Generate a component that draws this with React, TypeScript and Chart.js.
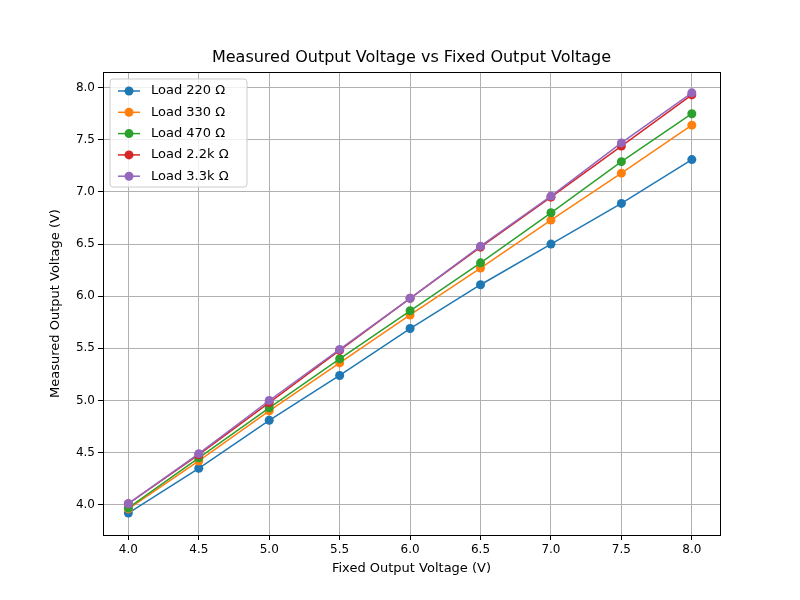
import { useEffect, useRef } from 'react'
import { Chart, registerables, type Plugin } from 'chart.js'

Chart.register(...registerables)

const fixedVoltage = [4.0, 4.5, 5.0, 5.5, 6.0, 6.5, 7.0, 7.5, 8.0]
const load220 = [3.92, 4.35, 4.81, 5.24, 5.69, 6.11, 6.5, 6.89, 7.31]
const load330 = [3.96, 4.42, 4.9, 5.36, 5.82, 6.27, 6.73, 7.18, 7.64]
const load470 = [3.97, 4.45, 4.93, 5.4, 5.86, 6.32, 6.8, 7.29, 7.75]
const load2k2 = [4.01, 4.48, 4.98, 5.48, 5.98, 6.47, 6.95, 7.44, 7.93]
const load3k3 = [4.01, 4.49, 5.0, 5.49, 5.98, 6.48, 6.96, 7.47, 7.95]
const tickValues = [4.0, 4.5, 5.0, 5.5, 6.0, 6.5, 7.0, 7.5, 8.0]

const series = [
  { label: 'Load 220 Ω', data: load220, color: '#1f77b4' },
  { label: 'Load 330 Ω', data: load330, color: '#ff7f0e' },
  { label: 'Load 470 Ω', data: load470, color: '#2ca02c' },
  { label: 'Load 2.2k Ω', data: load2k2, color: '#d62728' },
  { label: 'Load 3.3k Ω', data: load3k3, color: '#9467bd' },
]

const FONT = 'DejaVu Sans'

const overlay: Plugin = {
  id: 'overlay',
  afterDraw(chart) {
    const { ctx, chartArea } = chart
    const { left, right, top, bottom } = chartArea
    ctx.save()
    // frame
    ctx.strokeStyle = '#000'
    ctx.lineWidth = 1
    ctx.strokeRect(left + 0.5, top + 0.5, right - left, bottom - top)

    ctx.fillStyle = '#000'
    ctx.font = `16px "${FONT}"`
    ctx.textAlign = 'center'
    ctx.textBaseline = 'middle'
    ctx.fillText('Measured Output Voltage vs Fixed Output Voltage', (left + right) / 2, 58)

    ctx.font = `13px "${FONT}"`
    ctx.fillText('Fixed Output Voltage (V)', (left + right) / 2, 569)
    ctx.save()
    ctx.translate(56, (top + bottom) / 2)
    ctx.rotate(-Math.PI / 2)
    ctx.fillText('Measured Output Voltage (V)', 0, 0)
    ctx.restore()

    // legend box
    const x0 = left + 7, y0 = top + 7
    ctx.fillStyle = 'rgba(255,255,255,0.8)'
    ctx.strokeStyle = '#cccccc'
    ctx.lineWidth = 1
    ctx.beginPath()
    ctx.roundRect(x0, y0, 137, 108, 3)
    ctx.fill()
    ctx.stroke()
    ctx.font = `13px "${FONT}"`
    ctx.textAlign = 'left'
    series.forEach((s, i) => {
      const y = y0 + 12 + i * 21.3
      ctx.strokeStyle = s.color
      ctx.lineWidth = 1.5
      ctx.beginPath()
      ctx.moveTo(x0 + 8, y)
      ctx.lineTo(x0 + 30, y)
      ctx.stroke()
      ctx.fillStyle = s.color
      ctx.beginPath()
      ctx.arc(x0 + 19, y, 4.5, 0, Math.PI * 2)
      ctx.fill()
      ctx.fillStyle = '#000'
      ctx.fillText(s.label, x0 + 41, y)
    })
    ctx.restore()
  },
}

export default function App() {
  const canvasRef = useRef<HTMLCanvasElement>(null)

  useEffect(() => {
    document.body.style.margin = '0'
    if (!canvasRef.current) return
    const chart = new Chart(canvasRef.current, {
      type: 'line',
      data: {
        datasets: series.map((s, i) => ({
          label: s.label,
          data: fixedVoltage.map((x, j) => ({ x, y: s.data[j] })),
          borderColor: s.color,
          backgroundColor: s.color,
          borderWidth: 1.5,
          pointRadius: 4.5,
          pointBorderWidth: 0,
          tension: 0,
          order: series.length - i,
        })),
      },
      options: {
        responsive: false,
        animation: false,
        layout: { padding: { top: 72, right: 80, left: 0, bottom: 0 } },
        plugins: { legend: { display: false }, tooltip: { enabled: false } },
        scales: {
          x: {
            type: 'linear',
            min: 3.82,
            max: 8.2,
            afterBuildTicks: s => { s.ticks = tickValues.map(v => ({ value: v })) },
            afterFit: s => { s.height = 65 },
            ticks: { color: '#000', font: { family: FONT, size: 12 }, callback: v => Number(v).toFixed(1), maxRotation: 0 },
            grid: { color: '#b0b0b0', tickLength: 5, tickColor: '#000' },
            border: { color: '#000' },
          },
          y: {
            type: 'linear',
            min: 3.71,
            max: 8.15,
            afterBuildTicks: s => { s.ticks = tickValues.map(v => ({ value: v })) },
            afterFit: s => { s.width = 103 },
            ticks: { color: '#000', font: { family: FONT, size: 12 }, callback: v => Number(v).toFixed(1) },
            grid: { color: '#b0b0b0', tickLength: 5, tickColor: '#000' },
            border: { color: '#000' },
          },
        },
      },
      plugins: [overlay],
    })
    return () => chart.destroy()
  }, [])

  return <canvas ref={canvasRef} width={800} height={600} style={{ display: 'block', background: '#fff' }} />
}
